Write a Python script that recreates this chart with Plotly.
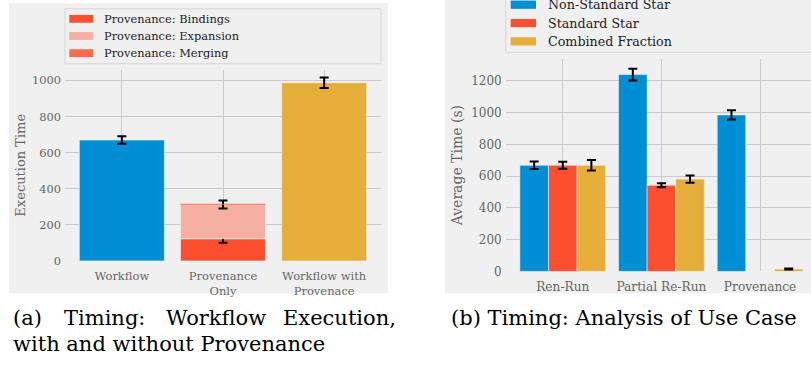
import plotly.graph_objects as go

W, H = 811, 366

# ---------------- data ----------------
left_categories = ["Workflow", "Provenance<br>Only", "Workflow with<br>Provenace"]
workflow_time = [670]
workflow_err = [21]
bindings_time = [123]
bindings_err = [22]
expansion_time = [190]
expansion_err = [22]
merging_time = [3]
wwp_time = [987]
wwp_err = [29]
left_legend = ["Provenance: Bindings", "Provenance: Expansion", "Provenance: Merging"]

use_cases = ["Ren-Run", "Partial Re-Run", "Provenance"]
non_standard = [668, 1239, 985]
non_standard_err = [24, 37, 29]
standard = [668, 542, None]
standard_err = [22, 13, None]
combined = [668, 581, 15]
combined_err = [33, 23, 3]
right_legend = ["Non-Standard Star", "Standard Star", "Combined Fraction"]

left_yticks = [0, 200, 400, 600, 800, 1000]
right_yticks = [0, 200, 400, 600, 800, 1000, 1200]

# ---------------- style ----------------
BLUE = "#008fd5"
RED = "#fc4f30"
YELLOW = "#e5ae38"
EXP = "#f5b0a3"
MERGE = "#fa6b50"
BG = "#f0f0f0"
GRID = "#cbcbcb"
TXT = "#666666"
SERIF = "DejaVu Serif"
EDGE = dict(color="rgba(245,245,245,0.55)", width=1)


def fx(p):
    return p / W


def fy(p):
    return 1 - p / H


def err(a, w=4.5):
    return dict(type="data", array=a, visible=True, color="black", thickness=2, width=w)


fig = go.Figure()

# left panel
LW = 0.84
fig.add_trace(go.Bar(x=[left_categories[0]], y=workflow_time, width=LW, offset=-LW / 2,
                     marker=dict(color=BLUE, line=EDGE), error_y=err(workflow_err),
                     xaxis="x", yaxis="y", showlegend=False))
fig.add_trace(go.Bar(x=[left_categories[1]], y=bindings_time, width=LW, offset=-LW / 2,
                     marker=dict(color=RED, line=EDGE), error_y=err(bindings_err),
                     xaxis="x", yaxis="y", showlegend=False))
fig.add_trace(go.Bar(x=[left_categories[1]], y=expansion_time, base=bindings_time, width=LW,
                     offset=-LW / 2, marker=dict(color=EXP, line=EDGE), error_y=err(expansion_err),
                     xaxis="x", yaxis="y", showlegend=False))
fig.add_trace(go.Bar(x=[left_categories[1]], y=merging_time,
                     base=[bindings_time[0] + expansion_time[0]], width=LW, offset=-LW / 2,
                     marker=dict(color=MERGE, line=dict(width=0)),
                     xaxis="x", yaxis="y", showlegend=False))
fig.add_trace(go.Bar(x=[left_categories[2]], y=wwp_time, width=LW, offset=-LW / 2,
                     marker=dict(color=YELLOW, line=EDGE), error_y=err(wwp_err),
                     xaxis="x", yaxis="y", showlegend=False))

# right panel
RW = 0.29
for i, (vals, errs, col) in enumerate([(non_standard, non_standard_err, BLUE),
                                        (standard, standard_err, RED),
                                        (combined, combined_err, YELLOW)]):
    fig.add_trace(go.Bar(x=use_cases, y=vals, width=RW, offset=-1.5 * RW + i * RW,
                         marker=dict(color=col, line=EDGE), error_y=err(errs),
                         xaxis="x2", yaxis="y2", showlegend=False))

axis_common = dict(showgrid=True, gridcolor=GRID, gridwidth=1, zeroline=False,
                   showline=False, ticks="", fixedrange=True)

fig.update_layout(
    width=W, height=H,
    margin=dict(l=0, r=0, t=0, b=0),
    paper_bgcolor="white", plot_bgcolor=BG,
    barmode="overlay",
    showlegend=False,
    xaxis=dict(axis_common, domain=[fx(65), fx(381)], range=[-0.562, 2.562], type="category",
               tickfont=dict(family=SERIF, size=11.5, color=TXT), anchor="y",
               ticklabelstandoff=7),
    yaxis=dict(axis_common, domain=[fy(266), fy(71)], range=[0, 1060], tickvals=left_yticks,
               tickfont=dict(family=SERIF, size=11.4, color=TXT), anchor="x",
               ticklabelstandoff=3,
               title=dict(text="Execution Time", font=dict(family=SERIF, size=13, color=TXT),
                          standoff=3)),
    xaxis2=dict(axis_common, domain=[fx(505.7), 1], range=[-0.5785, 2.516], type="category",
                tickfont=dict(family=SERIF, size=12.2, color=TXT), anchor="y2",
                ticklabelstandoff=6),
    yaxis2=dict(axis_common, domain=[fy(276.7), fy(60)], range=[0, 1338], tickvals=right_yticks,
                tickfont=dict(family=SERIF, size=12, color=TXT), anchor="x2",
                ticklabelstandoff=3,
                title=dict(text="Average Time (s)", font=dict(family=SERIF, size=14, color=TXT),
                           standoff=5)),
)

shapes = []
# panel backgrounds
shapes.append(dict(type="rect", xref="paper", yref="paper", x0=fx(9), x1=fx(388), y0=fy(299), y1=fy(3),
                   fillcolor=BG, line=dict(width=0), layer="below"))
shapes.append(dict(type="rect", xref="paper", yref="paper", x0=fx(445), x1=fx(812), y0=fy(299), y1=fy(-2),
                   fillcolor=BG, line=dict(width=0), layer="below"))
# legend frames
shapes.append(dict(type="rect", xref="paper", yref="paper", x0=fx(65), x1=fx(381), y0=fy(65), y1=fy(9),
                   fillcolor=BG, line=dict(color="#d6d6d6", width=1), layer="above"))
shapes.append(dict(type="rect", xref="paper", yref="paper", x0=fx(505.7), x1=fx(815), y0=fy(53.3), y1=fy(-5),
                   fillcolor=BG, line=dict(color="#d6d6d6", width=1), layer="above"))

annotations = []
left_cols = [RED, EXP, MERGE]
for i, (name, col) in enumerate(zip(left_legend, left_cols)):
    cy = 19.2 + i * 17.5
    shapes.append(dict(type="rect", xref="paper", yref="paper", x0=fx(69.3), x1=fx(93.3),
                       y0=fy(cy + 4), y1=fy(cy - 4), fillcolor=col, line=dict(width=0), layer="above"))
    annotations.append(dict(text=name, x=fx(102.3), y=fy(cy), xref="paper", yref="paper",
                            xanchor="left", yanchor="middle", showarrow=False,
                            font=dict(family=SERIF, size=11.4, color="#222222")))
right_cols = [BLUE, RED, YELLOW]
for i, (name, col) in enumerate(zip(right_legend, right_cols)):
    cy = 4.8 + i * 18.7
    shapes.append(dict(type="rect", xref="paper", yref="paper", x0=fx(510.7), x1=fx(536),
                       y0=fy(cy + 4.2), y1=fy(cy - 4.2), fillcolor=col, line=dict(width=0), layer="above"))
    annotations.append(dict(text=name, x=fx(545.7), y=fy(cy), xref="paper", yref="paper",
                            xanchor="left", yanchor="middle", showarrow=False,
                            font=dict(family=SERIF, size=12.7, color="#222222")))

# captions
cap_font = dict(family=SERIF, size=21, color="black")
for word, x0 in [("(a)", 10.7), ("Timing:", 62), ("Workflow", 164), ("Execution,", 280.7)]:
    annotations.append(dict(text=word, x=fx(x0), y=fy(324), xref="paper", yref="paper",
                            xanchor="left", yanchor="middle", showarrow=False, font=cap_font))
annotations.append(dict(text="with and without Provenance", x=fx(10.7), y=fy(350.5), xref="paper",
                        yref="paper", xanchor="left", yanchor="middle", showarrow=False, font=cap_font))
annotations.append(dict(text="(b) Timing: Analysis of Use Case", x=fx(449), y=fy(324), xref="paper",
                        yref="paper", xanchor="left", yanchor="middle", showarrow=False, font=cap_font))

fig.update_layout(shapes=shapes, annotations=annotations)
fig.write_html("out.html", config={"displayModeBar": False},
               post_script="document.body.style.margin='0';document.body.style.overflow='hidden';")
